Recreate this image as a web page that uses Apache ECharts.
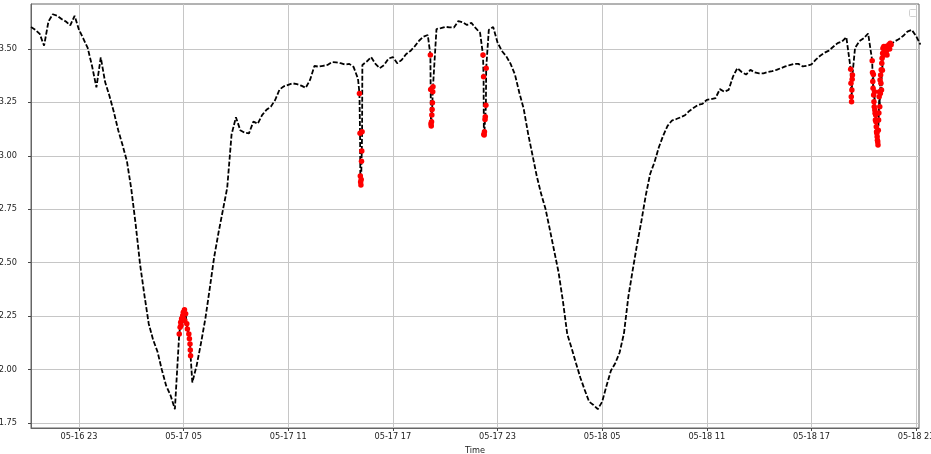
<!DOCTYPE html>
<html><head><meta charset="utf-8">
<script src="https://cdn.jsdelivr.net/npm/echarts@6/dist/echarts.min.js"></script>
<style>html,body{margin:0;padding:0;background:#fff;overflow:hidden}#c{width:931px;height:454px}</style>
</head><body><div id="c"></div>
<script>
// ---- data ----
const BASE_START = '05-16 20:15';
const BASE_STEP_MIN = 15;
const baseValues = [
3.602,3.589,3.570,3.515,3.628,3.662,3.655,3.640,3.628,3.610,
3.655,3.590,3.548,3.505,3.420,3.320,3.460,3.345,3.280,3.205,
3.120,3.050,2.975,2.845,2.680,2.495,2.350,2.215,2.140,2.085,
2.000,1.925,1.880,1.815,2.160,2.255,2.180,1.940,2.020,2.125,
2.240,2.380,2.525,2.640,2.745,2.850,3.100,3.180,3.120,3.108,
3.105,3.160,3.150,3.190,3.215,3.230,3.261,3.310,3.325,3.332,
3.339,3.335,3.328,3.318,3.355,3.420,3.417,3.421,3.425,3.438,
3.437,3.433,3.427,3.430,3.415,3.360,3.425,3.441,3.462,3.430,
3.410,3.425,3.455,3.462,3.433,3.448,3.475,3.490,3.512,3.538,
3.557,3.565,3.220,3.593,3.597,3.603,3.601,3.600,3.630,3.625,
3.612,3.622,3.597,3.575,3.110,3.589,3.603,3.530,3.490,3.466,
3.430,3.380,3.295,3.220,3.105,3.005,2.905,2.822,2.752,2.655,
2.555,2.455,2.320,2.165,2.100,2.030,1.962,1.905,1.850,1.835,
1.815,1.850,1.925,1.995,2.030,2.080,2.170,2.340,2.465,2.585,
2.695,2.815,2.915,2.970,3.040,3.095,3.140,3.165,3.172,3.180,
3.190,3.210,3.225,3.238,3.243,3.262,3.265,3.270,3.312,3.300,
3.308,3.370,3.410,3.392,3.380,3.402,3.390,3.386,3.386,3.392,
3.396,3.402,3.410,3.418,3.424,3.430,3.430,3.418,3.421,3.428,
3.450,3.468,3.482,3.492,3.510,3.527,3.534,3.555,3.400,3.505,
3.536,3.550,3.572,3.390,3.105,3.400,3.511,3.520,3.534,3.545,
3.560,3.581,3.589,3.560,3.520
];
const anomalyTimes = [
'05-17 04:45','05-17 04:48','05-17 04:50','05-17 04:51','05-17 04:53','05-17 04:57','05-17 04:59','05-17 05:00','05-17 05:03','05-17 05:04','05-17 05:07','05-17 05:11','05-17 05:13','05-17 05:18','05-17 05:20','05-17 05:22','05-17 05:23','05-17 05:24',
'05-17 15:05','05-17 15:07','05-17 15:08','05-17 15:09','05-17 15:10','05-17 15:11','05-17 15:12','05-17 15:13','05-17 15:14',
'05-17 19:09','05-17 19:10','05-17 19:11','05-17 19:12','05-17 19:13','05-17 19:14','05-17 19:15','05-17 19:16','05-17 19:17','05-17 19:18',
'05-17 22:10','05-17 22:12','05-17 22:13','05-17 22:14','05-17 22:15','05-17 22:17','05-17 22:18','05-17 22:20','05-17 22:21',
'05-18 19:15','05-18 19:16','05-18 19:17','05-18 19:18','05-18 19:19','05-18 19:20','05-18 19:21',
'05-18 20:29','05-18 20:30','05-18 20:31','05-18 20:32','05-18 20:33','05-18 20:34','05-18 20:35','05-18 20:36','05-18 20:37','05-18 20:38',
'05-18 20:39','05-18 20:40','05-18 20:41','05-18 20:42','05-18 20:43','05-18 20:44','05-18 20:45','05-18 20:46','05-18 20:47','05-18 20:48',
'05-18 20:49','05-18 20:50','05-18 20:51','05-18 20:52','05-18 20:53','05-18 20:54','05-18 20:55','05-18 20:56','05-18 20:57','05-18 20:58',
'05-18 20:59','05-18 21:00','05-18 21:01','05-18 21:02','05-18 21:03','05-18 21:04','05-18 21:05','05-18 21:06','05-18 21:08','05-18 21:09',
'05-18 21:11','05-18 21:13','05-18 21:15','05-18 21:18','05-18 21:20','05-18 21:23','05-18 21:26','05-18 21:29','05-18 21:31','05-18 21:34'
];
const anomalyValues = [
2.167,2.198,2.222,2.206,2.238,2.253,2.268,2.238,2.280,2.229,2.261,2.214,2.190,2.167,2.144,2.120,2.092,2.065,
3.292,3.105,2.905,2.878,2.864,2.889,2.975,3.022,3.112,
3.472,3.310,3.150,3.140,3.159,3.191,3.217,3.248,3.300,3.323,
3.472,3.370,3.101,3.097,3.112,3.170,3.183,3.237,3.409,
3.405,3.339,3.276,3.253,3.308,3.358,3.378,
3.445,3.390,3.347,3.316,3.380,3.284,3.253,3.230,3.300,3.214,
3.199,3.167,3.191,3.159,3.136,3.112,3.105,3.089,3.073,3.065,
3.050,3.120,3.167,3.200,3.276,3.300,3.230,3.355,3.292,3.378,
3.339,3.402,3.308,3.433,3.456,3.400,3.480,3.503,3.470,3.511,
3.487,3.500,3.511,3.490,3.472,3.511,3.519,3.500,3.527,3.520
];
const X_MIN = '05-16 20:15';
const X_MAX = '05-18 23:10';
const X_TICKS = ['05-16 23:00','05-17 05:00','05-17 11:00','05-17 17:00','05-17 23:00','05-18 05:00','05-18 11:00','05-18 17:00','05-18 23:00'];
const Y_MIN = 1.727, Y_MAX = 3.71;
const Y_TICKS = [1.75, 2.00, 2.25, 2.50, 2.75, 3.00, 3.25, 3.50];
const X_NAME = 'Time';

// ---- helpers ----
const ORIGIN_DAY = 16;
function toHours(s){
  const d = +s.slice(3,5), h = +s.slice(6,8), m = +s.slice(9,11);
  return (d-ORIGIN_DAY)*24 + h + m/60;
}
function pad(n){ return String(n).padStart(2,'0'); }
function fmtHours(v){
  const tot = Math.round(v*60);
  const d = ORIGIN_DAY + Math.floor(tot/1440);
  const h = Math.floor((tot % 1440)/60);
  return '05-' + pad(d) + ' ' + pad(h);
}

const start = toHours(BASE_START);
const merged = new Map();
baseValues.forEach((v,i)=>{
  const x = start + i*BASE_STEP_MIN/60;
  merged.set(Math.round(x*60), [x, v]);
});
const anomalyData = anomalyTimes.map((t,i)=>[toHours(t), anomalyValues[i]]);
anomalyData.forEach(p=>merged.set(Math.round(p[0]*60), p));
const lineData = [...merged.keys()].sort((a,b)=>a-b).map(k=>merged.get(k));
const xTickVals = X_TICKS.map(toHours);

const FONT = 'DejaVu Sans';
const chart = echarts.init(document.getElementById('c'), null, {renderer:'canvas'});
chart.setOption({
  animation: false,
  backgroundColor: '#fff',
  grid: {left: 31, right: 12, top: 4, bottom: 26, containLabel: false, outerBoundsMode: 'none',
         show: true, borderColor: '#666', borderWidth: 1, backgroundColor: 'transparent'},
  xAxis: {
    type: 'value', min: toHours(X_MIN), max: toHours(X_MAX),
    name: X_NAME, nameLocation: 'middle', nameGap: 19,
    nameTextStyle: {fontSize: 8.2, color: '#222', fontFamily: FONT},
    axisLine: {show: true, onZero: false, lineStyle: {color: '#666', width: 1}},
    axisTick: {show: true, length: 3, customValues: xTickVals, lineStyle: {color: '#444'}},
    axisLabel: {customValues: xTickVals, formatter: fmtHours, fontSize: 8.2, color: '#222', fontFamily: FONT, margin: 5},
    splitLine: {show: true, lineStyle: {color: '#c6c6c6', width: 1}}
  },
  yAxis: {
    type: 'value', min: Y_MIN, max: Y_MAX,
    axisLine: {show: true, onZero: false, lineStyle: {color: '#666', width: 1}},
    axisTick: {show: true, length: 3, customValues: Y_TICKS, lineStyle: {color: '#444'}},
    axisLabel: {customValues: Y_TICKS, formatter: v => v.toFixed(2), fontSize: 8.2, color: '#222', fontFamily: FONT, margin: 14},
    splitLine: {show: true, lineStyle: {color: '#c6c6c6', width: 1}}
  },
  graphic: [{type: 'rect', right: 14, top: 9, shape: {width: 7, height: 7, r: 1}, style: {fill: '#fff', stroke: '#d0d0d0', lineWidth: 1}}],
  series: [
    {type: 'line', data: lineData, showSymbol: false, symbol: 'none', z: 2, clip: true,
     lineStyle: {color: '#000', width: 1.8, type: [5, 2]}},
    {type: 'scatter', data: anomalyData, symbol: 'circle', symbolSize: 5.5, z: 3,
     itemStyle: {color: '#ff0000', opacity: 1}}
  ]
});
</script></body></html>
